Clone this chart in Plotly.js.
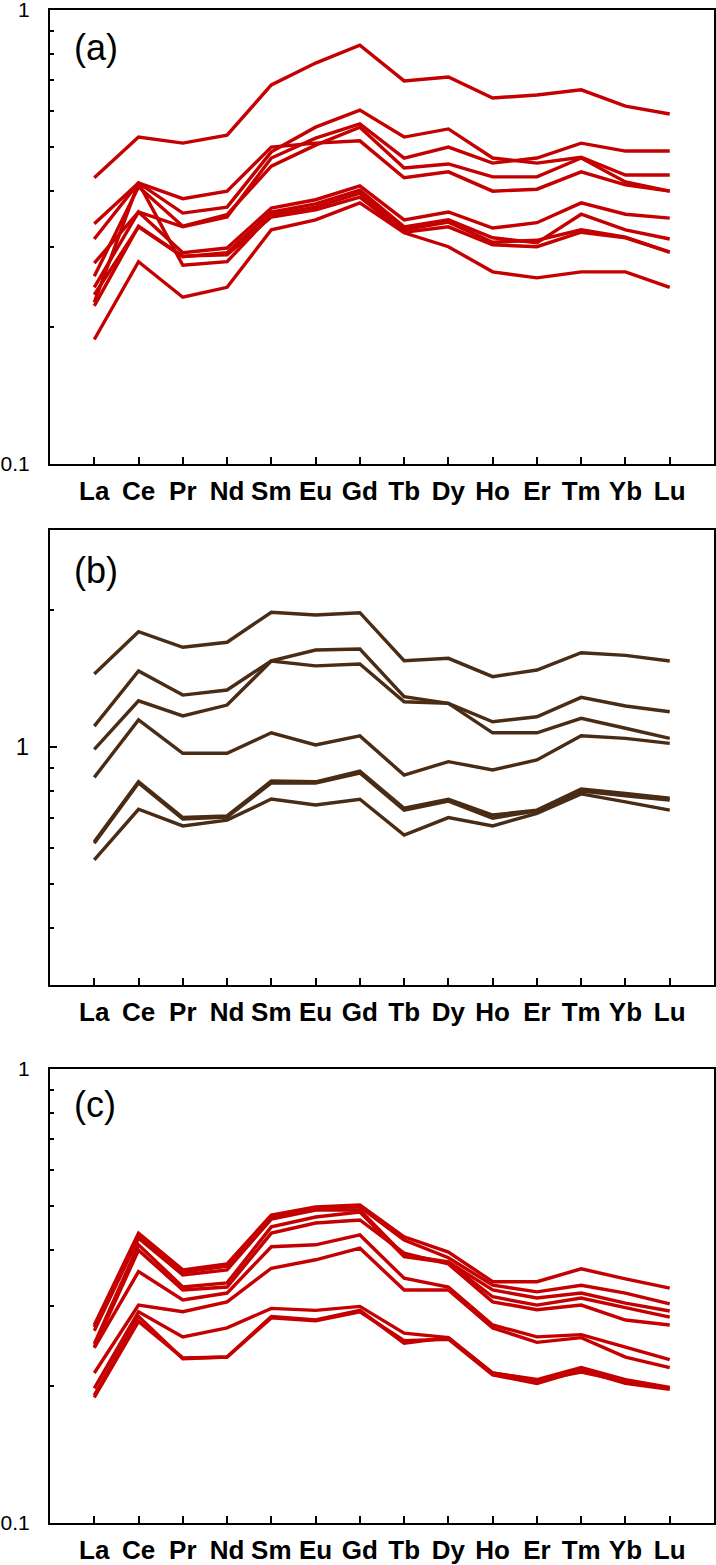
<!DOCTYPE html>
<html>
<head>
<meta charset="utf-8">
<script src="https://cdn.plot.ly/plotly-3.0.1.min.js"></script>
<style>html,body{margin:0;padding:0;background:#fff;} #chart{width:716px;height:1565px;}</style>
</head>
<body>
<div id="chart"></div>
<script>
// ---- categories ----
const elements = ['La','Ce','Pr','Nd','Sm','Eu','Gd','Tb','Dy','Ho','Er','Tm','Yb','Lu'];

// ---- panel (a) series ----
const a1  = [0.427,0.525,0.509,0.530,0.684,0.764,0.837,0.698,0.712,0.640,0.650,0.667,0.614,0.590];
const a2  = [0.338,0.416,0.384,0.399,0.499,0.509,0.515,0.427,0.440,0.399,0.403,0.440,0.412,0.399];
const a3  = [0.313,0.416,0.357,0.368,0.487,0.552,0.602,0.525,0.547,0.472,0.460,0.474,0.433,0.433];
const a4  = [0.277,0.359,0.333,0.350,0.472,0.522,0.561,0.472,0.499,0.460,0.472,0.509,0.489,0.489];
const a5  = [0.259,0.408,0.334,0.354,0.453,0.504,0.552,0.449,0.458,0.429,0.429,0.472,0.418,0.399];
const a6  = [0.245,0.359,0.292,0.299,0.366,0.382,0.410,0.345,0.359,0.331,0.340,0.376,0.355,0.348];
const a7  = [0.236,0.333,0.286,0.292,0.359,0.374,0.401,0.333,0.345,0.315,0.307,0.355,0.328,0.313];
const a8  = [0.227,0.416,0.274,0.279,0.354,0.368,0.395,0.328,0.341,0.308,0.311,0.328,0.316,0.293];
const a9  = [0.223,0.334,0.287,0.289,0.350,0.363,0.387,0.324,0.333,0.304,0.301,0.324,0.315,0.293];
const a10 = [0.188,0.279,0.233,0.245,0.328,0.345,0.376,0.323,0.301,0.265,0.257,0.265,0.265,0.245];

// ---- panel (b) series ----
const b1 = [1.448,1.793,1.657,1.700,1.978,1.951,1.974,1.548,1.567,1.428,1.477,1.612,1.591,1.546];
const b2 = [1.112,1.470,1.301,1.335,1.548,1.634,1.643,1.290,1.248,1.137,1.166,1.286,1.231,1.196];
const b3 = [0.989,1.264,1.171,1.237,1.546,1.508,1.523,1.258,1.248,1.075,1.075,1.157,1.100,1.045];
const b4 = [0.858,1.147,0.969,0.969,1.075,1.011,1.058,0.868,0.929,0.891,0.937,1.059,1.045,1.019];
const b5 = [0.619,0.839,0.700,0.706,0.842,0.839,0.886,0.734,0.768,0.709,0.727,0.809,0.791,0.772];
const b6 = [0.615,0.834,0.695,0.702,0.834,0.834,0.877,0.727,0.761,0.698,0.724,0.801,0.781,0.765];
const b7 = [0.565,0.730,0.671,0.691,0.769,0.746,0.768,0.641,0.700,0.671,0.715,0.789,0.758,0.727];

// ---- panel (c) series ----
const c1  = [0.273,0.435,0.361,0.372,0.477,0.497,0.502,0.427,0.395,0.340,0.340,0.363,0.345,0.329];
const c2  = [0.270,0.431,0.357,0.368,0.470,0.494,0.497,0.420,0.384,0.334,0.323,0.334,0.321,0.304];
const c3  = [0.265,0.424,0.352,0.361,0.467,0.489,0.489,0.389,0.376,0.326,0.313,0.321,0.305,0.293];
const c4  = [0.248,0.410,0.331,0.338,0.449,0.472,0.484,0.386,0.374,0.315,0.302,0.313,0.298,0.284];
const c5  = [0.244,0.399,0.326,0.331,0.435,0.458,0.465,0.393,0.372,0.307,0.295,0.302,0.280,0.273];
const c6  = [0.243,0.358,0.310,0.321,0.406,0.410,0.431,0.346,0.331,0.273,0.257,0.260,0.244,0.229];
const c7  = [0.214,0.302,0.292,0.307,0.364,0.380,0.403,0.326,0.326,0.269,0.250,0.256,0.232,0.220];
const c8  = [0.198,0.292,0.257,0.269,0.297,0.294,0.300,0.262,0.256,0.214,0.207,0.220,0.207,0.199];
const c9  = [0.189,0.278,0.231,0.232,0.285,0.280,0.294,0.249,0.256,0.214,0.206,0.215,0.205,0.198];
const c10 = [0.191,0.285,0.230,0.232,0.283,0.279,0.292,0.252,0.254,0.212,0.203,0.217,0.203,0.197];

// ---- tick labels ----
const yTicksAC = [0.1, 1];
const yTickTextAC = ['0.1', '1'];
const yMinorAC = [0.2,0.3,0.4,0.5,0.6,0.7,0.8,0.9];
const yTicksB = [1];
const yTickTextB = ['1'];
const yMinorB = [0.4,0.5,0.6,0.7,0.8,0.9,2];
const panelLabels = ['(a)','(b)','(c)'];

const RED = '#c40000';
const BROWN = '#4a2b14';

const panels = [
  {series:[a1,a2,a3,a4,a5,a6,a7,a8,a9,a10], color:RED, x:'x', y:'y'},
  {series:[b1,b2,b3,b4,b5,b6,b7], color:BROWN, x:'x2', y:'y2'},
  {series:[c1,c2,c3,c4,c5,c6,c7,c8,c9,c10], color:RED, x:'x3', y:'y3'}
];

const traces = [];
panels.forEach(p => {
  p.series.forEach(s => {
    traces.push({
      type:'scatter', mode:'lines', x:elements, y:s,
      xaxis:p.x, yaxis:p.y,
      line:{color:p.color, width:3.4}, hoverinfo:'skip'
    });
  });
});

// pixel layout
const H = 1565, mt = 10, mb = 42;
const plotH = H - mt - mb;
function dom(top, bottom){
  return [(H - mb - bottom)/plotH, (H - mb - top)/plotH];
}

function xaxis(anchor){
  return {
    type:'category', categoryorder:'array', categoryarray:elements,
    range:[-1,14], anchor:anchor,
    showline:true, mirror:true, linecolor:'#000', linewidth:2,
    ticks:'inside', ticklen:7, tickwidth:2, tickcolor:'#000',
    showgrid:false, zeroline:false,
    tickfont:{family:'Liberation Sans, Arial, sans-serif', size:26, color:'#000', weight:'bold'},
    ticklabelstandoff:3, ticklabeloverflow:'allow'
  };
}
function yaxis(anchor, domain, range, tv, tt, minor, fs){
  return {
    type:'log', range:range, domain:domain, anchor:anchor,
    tickmode:'array', tickvals:tv, ticktext:tt,
    showline:true, mirror:true, linecolor:'#000', linewidth:2,
    ticks:'inside', ticklen:7, tickwidth:2, tickcolor:'#000',
    showgrid:false, zeroline:false,
    tickfont:{family:'Liberation Sans, Arial, sans-serif', size:fs, color:'#000'},
    ticklabelstandoff:14, ticklabeloverflow:'allow',
    minor:{tickmode:'array', tickvals:minor, ticks:'inside', ticklen:4, tickwidth:2, tickcolor:'#000', showgrid:false}
  };
}

const layout = {
  width:716, height:H,
  margin:{l:50, r:2, t:mt, b:mb, pad:0},
  paper_bgcolor:'#fff', plot_bgcolor:'#fff',
  showlegend:false,
  xaxis: xaxis('y'),
  xaxis2: xaxis('y2'),
  xaxis3: xaxis('y3'),
  yaxis: yaxis('x', dom(10,464), [-1,0], yTicksAC, yTickTextAC, yMinorAC, 21),
  yaxis2: yaxis('x2', dom(530,985), [Math.log10(0.3), Math.log10(3)], yTicksB, yTickTextB, yMinorB, 24),
  yaxis3: yaxis('x3', dom(1069,1523), [-1,0], yTicksAC, yTickTextAC, yMinorAC, 21),
  annotations: [
    {text:panelLabels[0], xref:'x domain', yref:'y domain', x:0.033, y:0.918},
    {text:panelLabels[1], xref:'x2 domain', yref:'y2 domain', x:0.033, y:0.912},
    {text:panelLabels[2], xref:'x3 domain', yref:'y3 domain', x:0.033, y:0.921}
  ].map(a => Object.assign(a, {showarrow:false, xanchor:'left', yanchor:'middle',
      font:{family:'Liberation Sans, Arial, sans-serif', size:36, color:'#000'}}))
};

Plotly.newPlot('chart', traces, layout, {displayModeBar:false, staticPlot:true});
</script>
</body>
</html>
